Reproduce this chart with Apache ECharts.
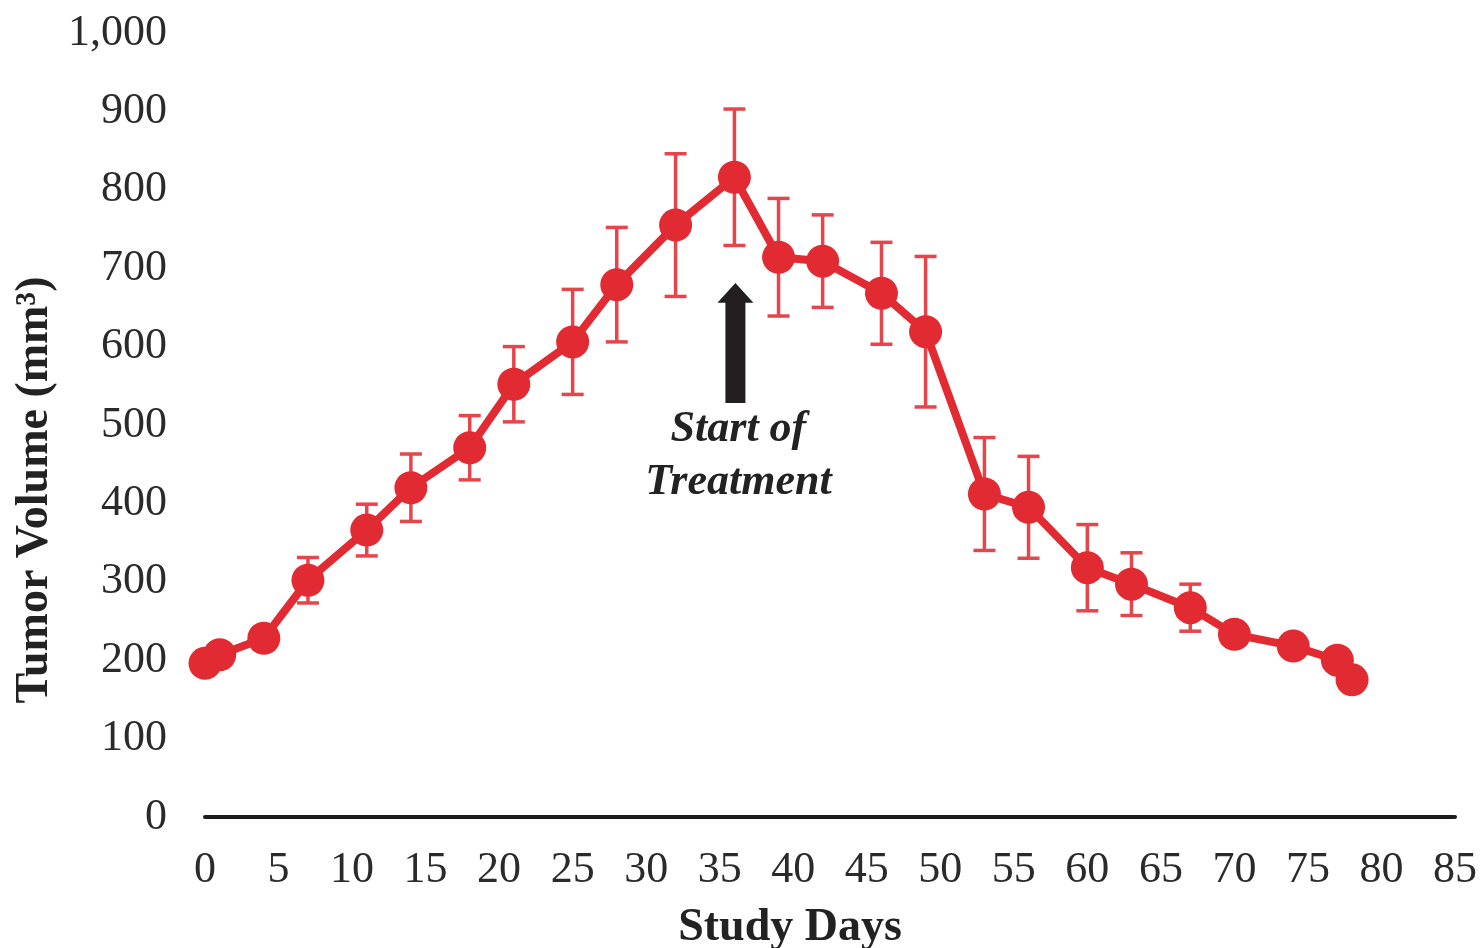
<!DOCTYPE html>
<html>
<head>
<meta charset="utf-8">
<script src="https://cdn.jsdelivr.net/npm/echarts@6/dist/echarts.min.js"></script>
<style>html,body{margin:0;padding:0;background:#fff}#c{width:1480px;height:948px}</style>
</head>
<body>
<div id="c"></div>
<script>
const days = [0, 1, 4, 7, 11, 14, 18, 21, 25, 28, 32, 36, 39, 42, 46, 49, 53, 56, 60, 63, 67, 70, 74, 77, 78];
const tumorVolume = [196, 207, 228, 302, 366, 420, 471, 552, 606, 679, 755, 816, 714, 709, 668, 619, 412, 395, 318, 297, 267, 233, 218, 200, 175];
const errorSize = [10, 10, 14, 29, 33, 43, 41, 48, 67, 73, 91, 87, 75, 59, 65, 96, 72, 65, 55, 40, 30, 12, 12, 10, 10];
const xTicks = [0, 5, 10, 15, 20, 25, 30, 35, 40, 45, 50, 55, 60, 65, 70, 75, 80, 85];
const yTicks = [0, 100, 200, 300, 400, 500, 600, 700, 800, 900, 1000];
const treatmentDay = 36;
const arrowBottom = 528, arrowHeadBase = 656, arrowTop = 681;
const annotationLines = ['Start of', 'Treatment'];
const annotationY = [494, 426];
const xTitle = 'Study Days';
const yTitle = 'Tumor Volume (mm\u00B3)';

const serif = '"Liberation Serif", "Times New Roman", serif';
const red = '#e12a32';
const errRed = '#e6454c';

const chart = echarts.init(document.getElementById('c'));
const option = {
  animation: false,
  backgroundColor: '#fff',
  grid: { left: 205, right: 25, top: 33, bottom: 131, containLabel: false },
  xAxis: {
    type: 'value', min: xTicks[0], max: xTicks[xTicks.length - 1], interval: 5,
    axisLine: { show: true, lineStyle: { color: '#1c1c1c', width: 4 } },
    axisTick: { show: false },
    splitLine: { show: false },
    axisLabel: { margin: 31, fontFamily: serif, fontSize: 44, color: '#2a2a2a',
      customValues: xTicks }
  },
  yAxis: {
    type: 'value', min: yTicks[0], max: yTicks[yTicks.length - 1], interval: 100,
    axisLine: { show: false }, axisTick: { show: false }, splitLine: { show: false },
    axisLabel: { margin: 38, fontFamily: serif, fontSize: 44, color: '#2a2a2a',
      formatter: v => v.toLocaleString('en-US') }
  },
  series: [
    {
      type: 'custom', z: 1,
      data: days.map((d, i) => [d, tumorVolume[i] - errorSize[i], tumorVolume[i] + errorSize[i]]),
      renderItem: function (params, api) {
        const lo = api.coord([api.value(0), api.value(1)]);
        const hi = api.coord([api.value(0), api.value(2)]);
        const hw = 11;
        const st = { stroke: errRed, lineWidth: 3.5 };
        return { type: 'group', children: [
          { type: 'line', shape: { x1: lo[0], y1: lo[1], x2: hi[0], y2: hi[1] }, style: st },
          { type: 'line', shape: { x1: lo[0] - hw, y1: lo[1], x2: lo[0] + hw, y2: lo[1] }, style: st },
          { type: 'line', shape: { x1: hi[0] - hw, y1: hi[1], x2: hi[0] + hw, y2: hi[1] }, style: st }
        ]};
      }
    },
    {
      type: 'line', z: 2,
      data: days.map((d, i) => [d, tumorVolume[i]]),
      symbol: 'circle', symbolSize: 33,
      itemStyle: { color: red },
      lineStyle: { color: red, width: 8 }
    }
  ]
};
chart.setOption(option);

const px = v => chart.convertToPixel({ xAxisIndex: 0, yAxisIndex: 0 }, v);
const b = px([treatmentDay, arrowBottom]);
const hb = px([treatmentDay, arrowHeadBase]);
const t = px([treatmentDay, arrowTop]);
const cx = b[0] + 1;
const shaftHW = 10, headHW = 18;
const graphics = [
  { type: 'polygon', shape: { points: [
      [cx - shaftHW, b[1]], [cx - shaftHW, hb[1]], [cx - headHW, hb[1]], [cx, t[1]],
      [cx + headHW, hb[1]], [cx + shaftHW, hb[1]], [cx + shaftHW, b[1]] ] },
    style: { fill: '#231f20' }, z: 10 }
];
annotationLines.forEach((txt, i) => {
  const p = px([treatmentDay, annotationY[i]]);
  graphics.push({ type: 'text', x: p[0] + 4, y: p[1], z: 10,
    style: { text: txt, fontFamily: serif, fontSize: 44, fontStyle: 'italic', fontWeight: 'bold',
      fill: '#222', align: 'center', verticalAlign: 'middle' } });
});
graphics.push({ type: 'text', x: 790, y: 928, z: 10,
  style: { text: xTitle, fontFamily: serif, fontSize: 46, fontWeight: 'bold', fill: '#222',
    align: 'center', verticalAlign: 'middle' } });
graphics.push({ type: 'text', x: 35, y: 490, rotation: Math.PI / 2, z: 10,
  style: { text: yTitle, fontFamily: serif, fontSize: 46, fontWeight: 'bold', fill: '#222',
    align: 'center', verticalAlign: 'middle' } });
chart.setOption({ graphic: graphics });
</script>
</body>
</html>
